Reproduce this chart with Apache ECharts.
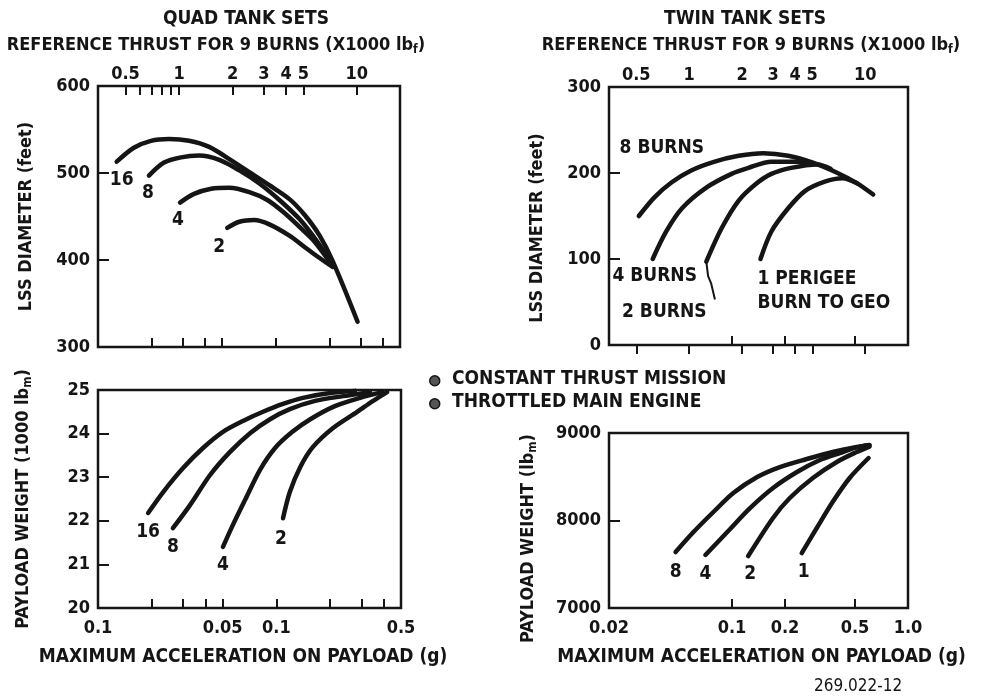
<!DOCTYPE html>
<html><head><meta charset="utf-8">
<script src="https://cdn.jsdelivr.net/npm/echarts@6/dist/echarts.min.js"></script>
<style>html,body{margin:0;padding:0;background:#fff}#c{width:981px;height:699px}</style>
</head><body><div id="c"></div><script>
// ---------- axis ticks / labels ----------
const thrustTicks = [0.5, 0.6, 0.7, 0.8, 0.9, 1, 2, 3, 4, 5, 10];
const thrustLabelValues = [0.5, 1, 2, 3, 4, 5, 10];
const thrustLabelText = ['0.5', '1', '2', '3', '4', '5', '10'];
const twinThrustTicks = [0.5, 1, 2, 3, 4, 5, 10];
const quadAccelTicks = [0.02, 0.03, 0.04, 0.05, 0.1, 0.2, 0.3, 0.4];
const quadAccelLabelValues = [0.01, 0.05, 0.1, 0.5];
const quadAccelLabelText = ['0.1', '0.05', '0.1', '0.5'];
const twinAccelTicks = [0.1, 0.2, 0.5];
const twinAccelLabelValues = [0.02, 0.1, 0.2, 0.5, 1.0];
const twinAccelLabelText = ['0.02', '0.1', '0.2', '0.5', '1.0'];

// ---------- QUAD: LSS diameter (ft) vs reference thrust (x1000 lbf) ----------
const quadDia16 = [[0.446,513],[0.557,529],[0.695,537],[0.878,539],[1.139,537],[1.477,530],[1.917,516],[2.485,501],[3.22,486],[4.18,470],[5.08,452],[6.18,428],[7.31,399],[10.1,329]];
const quadDia8  = [[0.677,497],[0.823,512],[1.026,518],[1.297,520],[1.683,515],[2.183,503],[2.83,488],[3.67,469],[4.76,447],[6.0,421],[7.31,395]];
const quadDia4  = [[1.013,466],[1.215,476],[1.516,482],[1.917,483],[2.485,478],[3.14,469],[3.92,454],[4.76,438],[5.79,421],[7.31,393]];
const quadDia2  = [[1.867,437],[2.183,444],[2.65,446],[3.22,441],[4.18,428],[5.08,415],[6.0,404],[7.31,392]];

// ---------- TWIN: LSS diameter (ft) vs reference thrust ----------
const twinDia8 = [[0.517,150],[0.636,172],[0.792,189],[1.026,203],[1.382,213],[1.909,220],[2.64,223],[3.65,220],[5.04,212],[6.96,200],[9.0,188],[11.1,175]];
const twinDia4 = [[0.62,100],[0.74,132],[0.91,159],[1.25,183],[1.74,199],[2.17,206],[2.93,213],[4.54,213]];
const twinDia2 = [[1.25,97],[1.53,136],[1.91,168],[2.38,187],[2.93,199],[3.79,206],[5.37,210],[6.36,205]];
const twinDia1 = [[2.54,100],[2.93,132],[3.65,159],[4.54,179],[5.89,190],[7.42,194],[9.0,188]];
const twinPointer2 = [[1.25,97],[1.28,80],[1.33,72],[1.40,53]];

// ---------- QUAD: payload weight (1000 lbm) vs max acceleration (g) ----------
const quadPay16 = [[0.0191,22.18],[0.0232,22.66],[0.030,23.21],[0.0388,23.67],[0.0502,24.04],[0.065,24.29],[0.0842,24.50],[0.109,24.68],[0.141,24.82],[0.200,24.93],[0.276,24.98]];
const quadPay8  = [[0.0263,21.83],[0.0328,22.36],[0.0425,23.05],[0.055,23.58],[0.0712,24.01],[0.0922,24.33],[0.119,24.56],[0.165,24.75],[0.237,24.86],[0.335,24.95]];
const quadPay4  = [[0.0502,21.40],[0.0564,21.86],[0.0668,22.48],[0.081,23.17],[0.0984,23.67],[0.123,24.04],[0.155,24.33],[0.213,24.63],[0.295,24.82],[0.392,24.95]];
const quadPay2  = [[0.109,22.06],[0.119,22.66],[0.136,23.23],[0.160,23.69],[0.208,24.13],[0.284,24.50],[0.349,24.75],[0.418,24.95]];

// ---------- TWIN: payload weight (lbm) vs max acceleration (g) ----------
const twinPay8 = [[0.0478,7640],[0.0604,7868],[0.0784,8097],[0.1017,8314],[0.139,8497],[0.187,8611],[0.266,8703],[0.373,8783],[0.511,8840],[0.604,8863]];
const twinPay4 = [[0.0706,7606],[0.094,7868],[0.127,8143],[0.171,8371],[0.234,8554],[0.316,8691],[0.41,8771],[0.511,8835],[0.604,8860]];
const twinPay2 = [[0.1236,7594],[0.171,8029],[0.213,8257],[0.288,8486],[0.394,8669],[0.511,8783],[0.604,8845]];
const twinPay1 = [[0.249,7628],[0.303,7914],[0.373,8211],[0.466,8486],[0.597,8714]];

// ---------- rendering ----------
const FONT = "'DejaVu Sans Condensed','DejaVu Sans',sans-serif";
const INK = '#151515';
function txt(size) { return {color: INK, fontFamily: FONT, fontWeight: 'bold', fontSize: size}; }
const TICK = txt(18);
const NAME = txt(18);
const MARK = txt(19);
const SUB = {color: INK, fontFamily: FONT, fontWeight: 'bold', fontSize: 12, padding: [10, 0, 0, 0]};

function lookup(vals, texts) {
  return function (v) {
    for (let i = 0; i < vals.length; i++) if (Math.abs(vals[i] - v) / vals[i] < 1e-4) return texts[i];
    return '';
  };
}
function logAxis(gridIndex, position, min, max, ticks, labelVals, labelTexts, margin) {
  return {
    type: 'log', logBase: 10, gridIndex, position, min, max,
    axisLine: {show: false}, splitLine: {show: false},
    axisTick: {show: true, inside: true, length: 9, customValues: ticks, lineStyle: {color: INK, width: 2}},
    axisLabel: labelVals ? Object.assign({show: true, customValues: labelVals, formatter: lookup(labelVals, labelTexts), margin: margin}, TICK) : {show: false}
  };
}
function valAxis(gridIndex, min, max, interval, name, nameGap, rich, shiftDown) {
  return {
    type: 'value', gridIndex, min, max, interval,
    axisLine: {show: false}, splitLine: {show: false},
    axisTick: {show: true, inside: true, length: 11, lineStyle: {color: INK, width: 2}},
    axisLabel: Object.assign({margin: 8, formatter: v => String(v)}, TICK),
    name, nameLocation: 'middle', nameGap, nameRotate: 90,
    nameTextStyle: Object.assign({rich: rich || {}, padding: [0, shiftDown || 0, 0, 0]}, NAME)
  };
}
function curve(x, y, data) {
  return {type: 'line', xAxisIndex: x, yAxisIndex: y, data, smooth: 0.3, symbol: 'none', silent: true,
    lineStyle: {color: INK, width: 4.5, cap: 'round', join: 'round'}, z: 3};
}
function labels(x, y, items) {
  return {type: 'scatter', xAxisIndex: x, yAxisIndex: y, symbolSize: 1, silent: true,
    itemStyle: {color: 'rgba(0,0,0,0)', opacity: 1}, z: 5,
    data: items.map(it => ({value: it.at, label: Object.assign({show: true, position: 'inside', formatter: it.text, offset: it.off, align: it.align || 'center', lineHeight: 24}, MARK)}))};
}

const grids = [
  {left: 98, top: 86, width: 302, height: 261},
  {left: 609, top: 87, width: 299, height: 258},
  {left: 98, top: 390, width: 303, height: 218},
  {left: 609, top: 433, width: 299, height: 175}
].map(g => Object.assign({show: true, borderColor: INK, borderWidth: 2.5, backgroundColor: '#fff'}, g));

const XNAME = Object.assign({}, txt(19));
const option = {
  backgroundColor: '#fff',
  animation: false,
  title: [
    {text: 'QUAD TANK SETS', left: 241, top: 5, textAlign: 'center', textStyle: txt(19)},
    {text: '{a|REFERENCE THRUST FOR 9 BURNS (X1000 lb}{s|f}{a|)}', left: 211, top: 29, textAlign: 'center', textStyle: {rich: {a: txt(18), s: SUB}}},
    {text: 'TWIN TANK SETS', left: 740, top: 5, textAlign: 'center', textStyle: txt(19)},
    {text: '{a|REFERENCE THRUST FOR 9 BURNS (X1000 lb}{s|f}{a|)}', left: 746, top: 29, textAlign: 'center', textStyle: {rich: {a: txt(18), s: SUB}}}
  ],
  grid: grids,
  xAxis: [
    logAxis(0, 'top', 0.35, 17.5, thrustTicks, thrustLabelValues, thrustLabelText, 3),
    logAxis(0, 'bottom', 0.01, 0.5, quadAccelTicks, null),
    logAxis(1, 'top', 0.35, 17.5, twinThrustTicks, thrustLabelValues, thrustLabelText, 3),
    logAxis(1, 'bottom', 0.02, 1.0, twinAccelTicks, null),
    Object.assign(logAxis(2, 'bottom', 0.01, 0.5, quadAccelTicks, quadAccelLabelValues, quadAccelLabelText, 11),
      {name: 'MAXIMUM ACCELERATION ON PAYLOAD (g)', nameLocation: 'middle', nameGap: 40, nameTextStyle: Object.assign({padding: [0, 13, 0, 0]}, XNAME)}),
    Object.assign(logAxis(3, 'bottom', 0.02, 1.0, twinAccelTicks, twinAccelLabelValues, twinAccelLabelText, 11),
      {name: 'MAXIMUM ACCELERATION ON PAYLOAD (g)', nameLocation: 'middle', nameGap: 40, nameTextStyle: Object.assign({padding: [0, 0, 0, 6]}, XNAME)})
  ],
  yAxis: [
    valAxis(0, 300, 600, 100, 'LSS DIAMETER (feet)', 63),
    valAxis(1, 0, 300, 100, 'LSS DIAMETER (feet)', 63, null, 24),
    valAxis(2, 20, 25, 1, '{a|PAYLOAD WEIGHT (1000 lb}{s|m}{a|)}', 64, {a: NAME, s: SUB}),
    valAxis(3, 7000, 9000, 1000, '{a|PAYLOAD WEIGHT (lb}{s|m}{a|)}', 70, {a: NAME, s: SUB}, 36)
  ],
  series: [
    curve(0, 0, quadDia16), curve(0, 0, quadDia8), curve(0, 0, quadDia4), curve(0, 0, quadDia2),
    labels(0, 0, [
      {at: quadDia16[0], text: '16', off: [5, 18]},
      {at: quadDia8[0], text: '8', off: [-1, 17]},
      {at: quadDia4[0], text: '4', off: [-2, 17]},
      {at: quadDia2[0], text: '2', off: [-8, 19]}
    ]),
    curve(2, 1, twinDia8), curve(2, 1, twinDia4), curve(2, 1, twinDia2), curve(2, 1, twinDia1),
    Object.assign(curve(2, 1, twinPointer2), {smooth: false, lineStyle: {color: INK, width: 2}}),
    labels(2, 1, [
      {at: twinDia8[0], text: '8 BURNS', off: [23, -68]},
      {at: twinDia4[0], text: '4 BURNS', off: [2, 17]},
      {at: twinDia2[0], text: '2 BURNS', off: [-42, 50]},
      {at: twinDia1[0], text: '1 PERIGEE\nBURN TO GEO', off: [-3, 32], align: 'left'}
    ]),
    curve(4, 2, quadPay16), curve(4, 2, quadPay8), curve(4, 2, quadPay4), curve(4, 2, quadPay2),
    labels(4, 2, [
      {at: quadPay16[0], text: '16', off: [0, 19]},
      {at: quadPay8[0], text: '8', off: [0, 19]},
      {at: quadPay4[0], text: '4', off: [0, 18]},
      {at: quadPay2[0], text: '2', off: [-2, 21]}
    ]),
    curve(5, 3, twinPay8), curve(5, 3, twinPay4), curve(5, 3, twinPay2), curve(5, 3, twinPay1),
    labels(5, 3, [
      {at: twinPay8[0], text: '8', off: [0, 20]},
      {at: twinPay4[0], text: '4', off: [0, 19]},
      {at: twinPay2[0], text: '2', off: [2, 18]},
      {at: twinPay1[0], text: '1', off: [2, 19]}
    ])
  ],
  graphic: [
    {type: 'circle', left: 429, top: 375, shape: {r: 5}, style: {fill: '#555', stroke: INK, lineWidth: 1.5}},
    {type: 'text', left: 452, top: 370, style: {text: 'CONSTANT THRUST MISSION', fill: INK, font: 'bold 19px ' + FONT}},
    {type: 'circle', left: 429, top: 398, shape: {r: 5}, style: {fill: '#555', stroke: INK, lineWidth: 1.5}},
    {type: 'text', left: 452, top: 393, style: {text: 'THROTTLED MAIN ENGINE', fill: INK, font: 'bold 19px ' + FONT}},
    {type: 'text', left: 814, top: 678, style: {text: '269.022-12', fill: INK, font: '17px ' + FONT}}
  ]
};
const chart = echarts.init(document.getElementById('c'), null, {renderer: 'canvas'});
chart.setOption(option);
</script></body></html>
